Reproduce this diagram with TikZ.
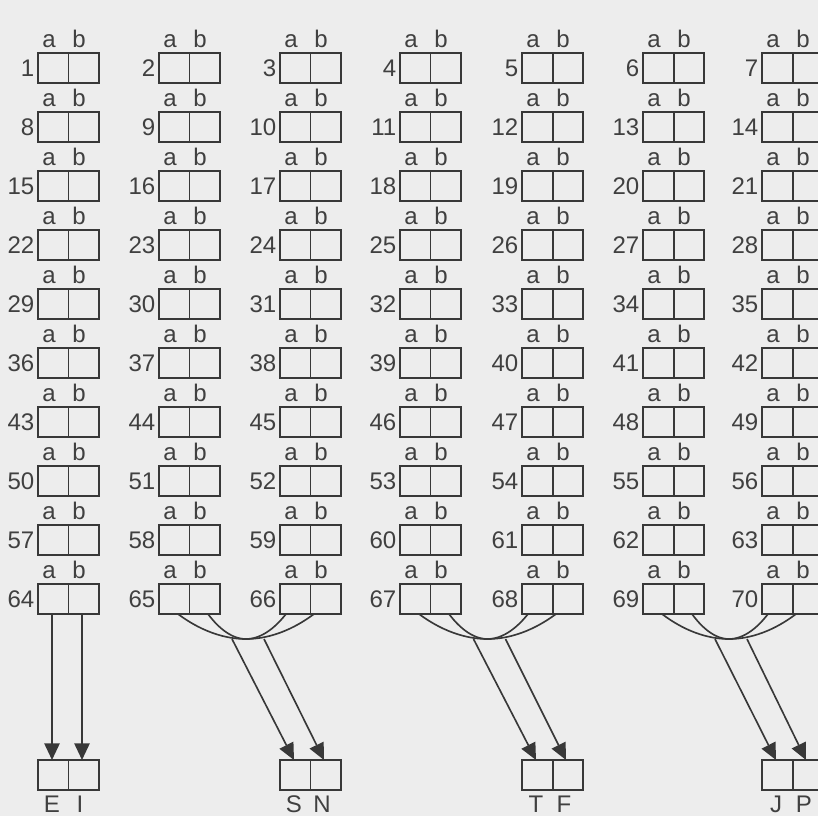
\documentclass[tikz,border=0pt]{standalone}
\usepackage{fontspec}
\setmainfont{Liberation Sans}
\usetikzlibrary{arrows.meta,calc}

\definecolor{ink}{HTML}{383838}
\definecolor{paper}{HTML}{EDEDED}
\definecolor{txt}{HTML}{404040}

\begin{document}
\begin{tikzpicture}[x=0.3mm, y=-0.3mm,
  cell/.style={draw=ink, line width=1.7pt, minimum width=18.3mm, minimum height=9mm, inner sep=0pt, outer sep=0pt},
  lab/.style={text=txt, font=\fontsize{20.5}{24}\selectfont, inner sep=0pt},
  num/.style={lab, anchor=east, inner xsep=3pt},
  wire/.style={draw=ink, line width=1.4pt},
  arr/.style={wire, -{Triangle[length=5mm, width=4.6mm]}}]
\useasboundingbox (0,0) rectangle (818,816);
\fill[paper] (0,0) rectangle (818,816);
\clip (0,0) rectangle (818,816);

% answer boxes 1..70
\foreach \c/\x in {1/38,2/159,3/280,4/400,5/522,6/643,7/762}
  \foreach \r in {1,...,10}{
    \pgfmathtruncatemacro\n{7*(\r-1)+\c}
    \pgfmathsetmacro\y{68+59*(\r-1)}
    \node[cell] (b\n) at (\x+30.5,\y) {};
    \draw[ink, line width=1.7pt] (b\n.north) -- (b\n.south);
    \node[num] at (b\n.west) {\n};
    \node[lab, anchor=base] at ([xshift=3.3mm, yshift=1.7mm]b\n.north west) {a};
    \node[lab, anchor=base] at ([xshift=12.3mm, yshift=1.7mm]b\n.north west) {b};
  }

% result boxes
\foreach \t/\x/\p/\q in {EI/38/E/I,SN/280/S/N,TF/522/T/F,JP/762/J/P}{
  \node[cell] (t\t) at (\x+30.5,775) {};
  \draw[ink, line width=1.7pt] (t\t.north) -- (t\t.south);
  \node[lab, anchor=base] at ([xshift=4.2mm, yshift=-6.8mm]t\t.south west) {\p};
  \node[lab, anchor=base] at ([xshift=12.6mm, yshift=-6.8mm]t\t.south west) {\q};
}

\draw[arr] ([xshift=4.2mm]b64.south west) -- ([xshift=4.2mm]tEI.north west);
\draw[arr] ([xshift=13.2mm]b64.south west) -- ([xshift=13.2mm]tEI.north west);

% pairs of columns merged
\foreach \l/\r/\t in {65/66/SN,67/68/TF,69/70/JP}{
  \coordinate (oa) at ([xshift=5.7mm]b\l.south west);
  \coordinate (ia) at ([xshift=14.7mm]b\l.south west);
  \coordinate (ib) at ([xshift=1.8mm]b\r.south west);
  \coordinate (ob) at ([xshift=10.2mm]b\r.south west);
  \coordinate (bend) at ($(oa)!0.5!(ob)+(0,25)$);
  \draw[wire] (oa) parabola bend (bend) (ob);
  \draw[wire] (ia) parabola bend (bend) (ib);
  \coordinate (s1) at ($(bend)+(-14,0)$);
  \coordinate (s2) at ($(bend)+(18,0)$);
  \draw[arr] (s1) -- ([xshift=4.2mm]t\t.north west);
  \draw[arr] (s2) -- ([xshift=13.2mm]t\t.north west);
}
\end{tikzpicture}
\end{document}
